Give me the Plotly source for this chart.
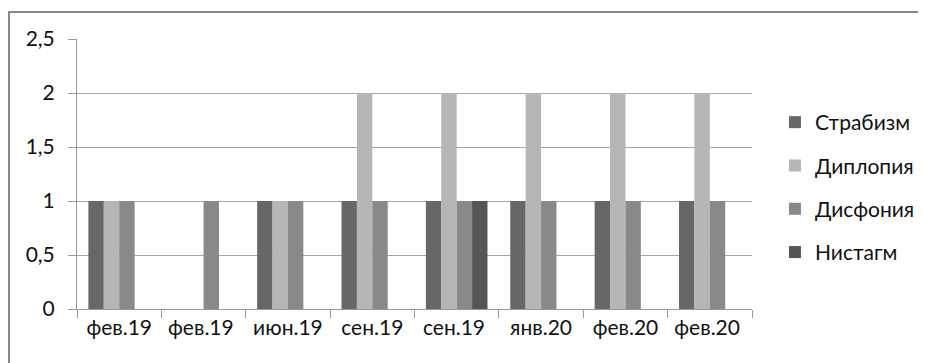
import plotly.graph_objects as go

categories = ["фев.19", "фев.19 ", "июн.19", "сен.19", "сен.19 ", "янв.20", "фев.20", "фев.20 "]
strabizm = [1, 0, 1, 1, 1, 1, 1, 1]
diplopia = [1, 0, 1, 2, 2, 2, 2, 2]
disfonia = [1, 1, 1, 1, 1, 1, 1, 1]
nistagm = [0, 0, 0, 0, 1, 0, 0, 0]

series = [
    ("Страбизм", strabizm, "#676767"),
    ("Диплопия", diplopia, "#b6b6b6"),
    ("Дисфония", disfonia, "#898989"),
    ("Нистагм", nistagm, "#555555"),
]

fig = go.Figure()
for i, (name, vals, col) in enumerate(series):
    fig.add_trace(go.Bar(x=categories, y=vals, name=name, marker_color=col,
                         marker_line_width=0, legendgroup=f"g{i}"))

font_family = "Lato, 'Open Sans', sans-serif"
fig.update_layout(
    width=926, height=363,
    margin=dict(l=69, r=182, t=31, b=62),
    paper_bgcolor="white", plot_bgcolor="white",
    barmode="group", bargap=0.27, bargroupgap=0,
    separators=", ",
    font=dict(family=font_family, size=21, color="#111"),
    showlegend=True,
    legend=dict(x=1.034, y=0.45, xanchor="left", yanchor="middle",
                font=dict(size=21, color="#111"), tracegroupgap=13,
                itemwidth=30, bgcolor="rgba(0,0,0,0)"),
    xaxis=dict(type="category", tickson="boundaries", ticks="outside", ticklen=8,
               tickcolor="#999", showline=True, linecolor="#999", linewidth=1,
               showgrid=False, tickfont=dict(size=21)),
    yaxis=dict(range=[0, 2.5], dtick=0.5, tick0=0, ticks="outside", ticklen=8,
               tickcolor="#999", showline=True, linecolor="#999", linewidth=1,
               showgrid=True, gridcolor="#a6a6a6", gridwidth=1, zeroline=False,
               tickfont=dict(size=21), ticklabelstandoff=9),
    shapes=[dict(type="rect", xref="paper", yref="paper",
                 x0=-68/675, x1=1.4, y0=-0.4, y1=1 + 27/270,
                 line=dict(color="#888", width=2), fillcolor="rgba(0,0,0,0)")],
)

fig.write_html("out.html")
